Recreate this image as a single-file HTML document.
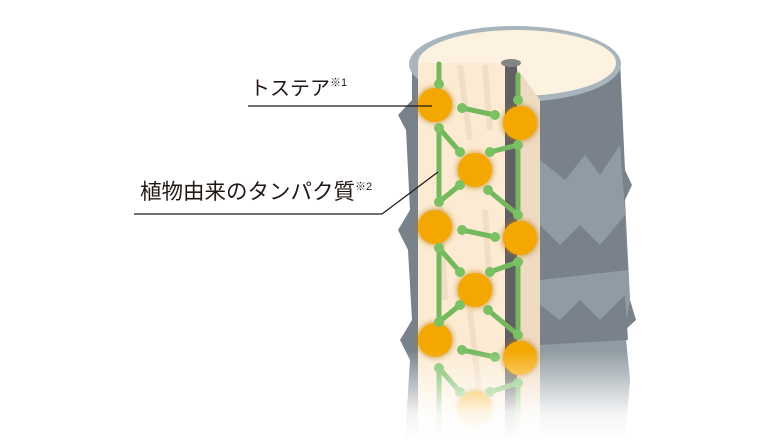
<!DOCTYPE html>
<html><head><meta charset="utf-8"><style>
html,body{margin:0;padding:0;background:#fff;width:780px;height:440px;overflow:hidden}
</style></head><body>
<svg width="780" height="440" viewBox="0 0 780 440" xmlns="http://www.w3.org/2000/svg">
<defs>
<linearGradient id="fade" x1="0" y1="0" x2="0" y2="1">
<stop offset="0" stop-color="#fff" stop-opacity="0"/>
<stop offset="0.7" stop-color="#fff" stop-opacity="0.9"/>
<stop offset="1" stop-color="#fff" stop-opacity="1"/>
</linearGradient>
<filter id="sh" x="-50%" y="-50%" width="200%" height="200%"><feGaussianBlur stdDeviation="3"/></filter>
</defs>
<!-- body -->
<path d="M412 60 L620 60 L625 170 L632 185 L625 200 L630 300 L636 320 L625 330 L630 380 L625 440 L405 440 L410 360 L400 340 L412 320 L408 250 L398 230 L410 210 L406 130 L398 115 L412 100 Z" fill="#79828a"/>
<path d="M540 160 L565 180 L585 155 L600 175 L620 145 L625 210 L630 300 L625 330 L630 380 L625 440 L540 440 Z" fill="#8f9ca3"/>
<path d="M540 225 L560 245 L580 225 L600 245 L625 215 L628 270 L540 280 Z" fill="#79828a"/>
<path d="M540 305 L560 320 L580 300 L600 320 L625 295 L628 340 L540 345 Z" fill="#79828a"/>
<!-- top -->
<ellipse cx="515" cy="64" rx="106" ry="38" fill="#a8b5bc"/>
<ellipse cx="517" cy="63" rx="99" ry="33" fill="#fdf2df"/>
<!-- cut face -->
<rect x="418" y="63" width="88" height="377" fill="#fcebd2"/>
<g stroke="#efdcc4" stroke-width="6" fill="none" opacity="0.8">
<path d="M460 65 L470 140"/><path d="M485 65 L490 130"/><path d="M440 200 L445 300"/><path d="M485 210 L490 290"/><path d="M470 310 L480 400"/>
</g>
<rect x="505" y="63" width="12" height="377" fill="#5f5f64"/>
<ellipse cx="511" cy="63" rx="10" ry="4" fill="#858585"/>
<path d="M517 68 L540 100 L540 440 L517 440 Z" fill="#efdac2"/>
<!-- halos -->
<g fill="#b97a10" filter="url(#sh)" opacity="0.7">
<circle cx="435" cy="105" r="18"/><circle cx="520" cy="123" r="18"/><circle cx="475" cy="170" r="18"/>
<circle cx="435" cy="227" r="18"/><circle cx="520" cy="238" r="18"/><circle cx="475" cy="290" r="18"/>
<circle cx="435" cy="340" r="18"/><circle cx="520" cy="358" r="18"/><circle cx="475" cy="408" r="18"/>
</g>
<!-- orange nodes -->
<g fill="#f4a700">
<circle cx="435" cy="105" r="17"/><circle cx="520" cy="123" r="17"/><circle cx="475" cy="170" r="17"/>
<circle cx="435" cy="227" r="17"/><circle cx="520" cy="238" r="17"/><circle cx="475" cy="290" r="17"/>
<circle cx="435" cy="340" r="17"/><circle cx="520" cy="358" r="17"/><circle cx="475" cy="408" r="17"/>
</g>
<!-- green links -->
<g stroke="#74b85e" stroke-width="5" fill="none" stroke-linecap="round">
<path d="M439 64 L439 82"/><path d="M518 75 L518 98"/>
<path d="M462 108 L495 115"/><path d="M439 128 L439 202"/><path d="M439 128 L460 152"/>
<path d="M490 152 L518 145"/><path d="M518 145 L518 215"/>
<path d="M460 185 L439 202"/><path d="M488 190 L518 215"/>
<path d="M462 230 L495 237"/><path d="M439 248 L460 272"/><path d="M439 248 L439 322"/>
<path d="M490 272 L518 262"/><path d="M518 262 L518 335"/>
<path d="M460 305 L439 322"/><path d="M488 310 L518 335"/>
<path d="M462 350 L495 357"/><path d="M439 368 L460 392"/><path d="M490 392 L518 383"/>
<path d="M439 368 L439 440"/><path d="M518 383 L518 440"/>
</g>
<g fill="#7cc064">
<circle cx="439" cy="84" r="5"/><circle cx="518" cy="100" r="5"/><circle cx="462" cy="108" r="5"/><circle cx="495" cy="115" r="5"/>
<circle cx="439" cy="128" r="5"/><circle cx="518" cy="145" r="5"/><circle cx="460" cy="152" r="5"/><circle cx="490" cy="152" r="5"/>
<circle cx="460" cy="185" r="5"/><circle cx="488" cy="190" r="5"/><circle cx="439" cy="202" r="5"/><circle cx="518" cy="215" r="5"/>
<circle cx="462" cy="230" r="5"/><circle cx="495" cy="237" r="5"/><circle cx="439" cy="248" r="5"/><circle cx="518" cy="262" r="5"/>
<circle cx="460" cy="272" r="5"/><circle cx="490" cy="272" r="5"/><circle cx="460" cy="305" r="5"/><circle cx="488" cy="310" r="5"/>
<circle cx="439" cy="322" r="5"/><circle cx="518" cy="335" r="5"/><circle cx="462" cy="350" r="5"/><circle cx="495" cy="357" r="5"/>
<circle cx="439" cy="368" r="5"/><circle cx="518" cy="383" r="5"/><circle cx="460" cy="392" r="5"/><circle cx="490" cy="392" r="5"/>
</g>
<rect x="390" y="350" width="260" height="90" fill="url(#fade)"/>
<!-- labels -->
<g stroke="#231815" stroke-width="1.2" fill="none">
<path d="M248 106 L432 106"/>
<path d="M134 214 L382 214 L438 172"/>
</g>
<g font-family="'Liberation Sans','Noto Sans CJK JP',sans-serif" fill="#231815">
<text x="250" y="95" font-size="20">トステア<tspan font-size="11" dy="-9">※1</tspan></text>
<text x="140" y="199" font-size="21.5">植物由来のタンパク質<tspan font-size="11" dy="-9">※2</tspan></text>
</g>
</svg>
</body></html>
